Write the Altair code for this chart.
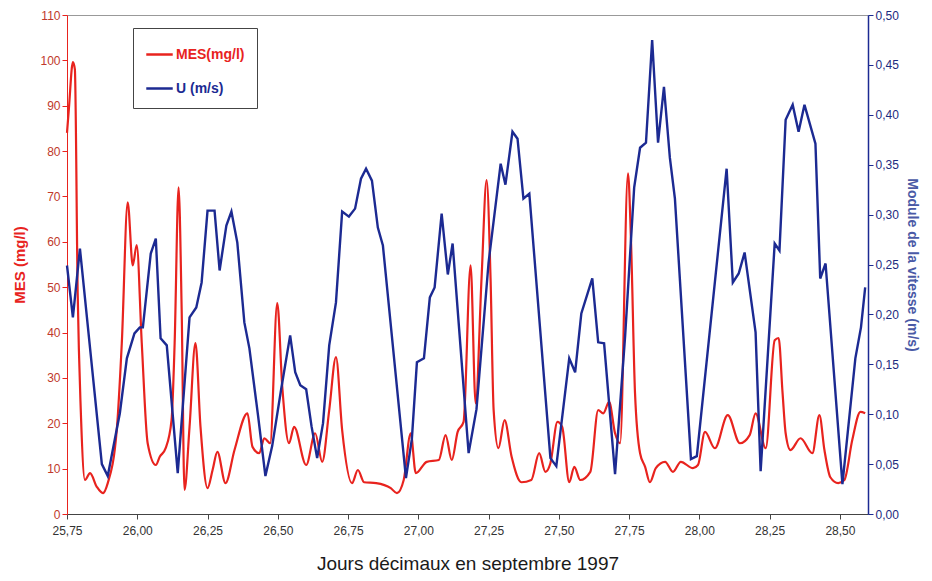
import altair as alt
import pandas as pd

RED = "#e8231e"
BLUE = "#1c2a92"
FONT = "Liberation Sans"

series = ["MES(mg/l)", "U (m/s)"]

mes_day = [25.75, 25.757, 25.771, 25.778, 25.788, 25.799, 25.814, 25.832, 25.856, 25.878,
           25.895, 25.927, 25.945, 25.966, 25.984, 25.998, 26.016, 26.037, 26.066, 26.080,
           26.101, 26.122, 26.133, 26.147, 26.158, 26.168, 26.186, 26.207, 26.225, 26.25,
           26.268, 26.285, 26.314, 26.346, 26.392, 26.41, 26.434, 26.452, 26.473, 26.498,
           26.516, 26.54, 26.558, 26.601, 26.633, 26.658, 26.683, 26.707, 26.729, 26.764,
           26.785, 26.807, 26.85, 26.902, 26.924, 26.948, 26.973, 26.991, 27.03, 27.073,
           27.097, 27.119, 27.14, 27.161, 27.186, 27.204, 27.225, 27.243, 27.257, 27.268,
           27.285, 27.307, 27.332, 27.367, 27.402, 27.43, 27.452, 27.47, 27.495, 27.512,
           27.537, 27.555, 27.576, 27.612, 27.64, 27.658, 27.679, 27.700, 27.718, 27.746,
           27.757, 27.771, 27.789, 27.807, 27.824, 27.845, 27.878, 27.906, 27.934, 27.977,
           27.995, 28.02, 28.055, 28.101, 28.144, 28.179, 28.2, 28.236, 28.268, 28.282,
           28.296, 28.307, 28.324, 28.36, 28.402, 28.427, 28.445, 28.466, 28.494, 28.516,
           28.544, 28.573, 28.59]
mes_val = [84, 89.6, 99.6, 98, 48.7, 22.9, 7.5, 9, 6, 4.6,
           6.8, 18.5, 37.7, 68.7, 54.8, 59.3, 37.7, 15.6, 10.8, 12.6,
           14.5, 20.7, 37.7, 72, 45, 5.3, 19.2, 37.7, 19.2, 5.7,
           9.7, 13.7, 6.8, 14.1, 22.2, 14.8, 13.4, 16.7, 15.6, 46.5,
           28, 15.6, 19.2, 10.8, 17.8, 11.5, 22.9, 34.6, 18.5, 6.8,
           9.7, 7, 6.8, 5.7, 4.6, 7.5, 17.8, 9, 11.5, 11.9,
           17.4, 11.9, 18.1, 20.3, 54.8, 24.4, 52, 73.6, 52, 22.9,
           14.5, 20.7, 12.6, 7, 7.5, 13.4, 9.3, 11.2, 20.3, 19.2,
           7, 10.4, 7.5, 9.3, 22.9, 22.2, 24.7, 17.8, 15.6, 75.1,
           59.7, 26.7, 13.4, 10.4, 7, 10.1, 11.5, 9.3, 11.5, 10.1,
           10.8, 18.1, 14.5, 21.8, 15.6, 17.4, 22.2, 14.5, 38.3, 38.8,
           26.7, 17.8, 14.1, 16.7, 13.4, 21.8, 14.1, 8.1, 6.8, 7.5,
           16.3, 22.5, 22.2]

u_day = [25.75, 25.771, 25.796, 25.874, 25.895, 25.938, 25.963, 25.99, 26.009, 26.02,
         26.048, 26.066, 26.083, 26.105, 26.144, 26.186, 26.21, 26.229, 26.25, 26.275,
         26.293, 26.317, 26.335, 26.356, 26.381, 26.399, 26.43, 26.456, 26.48, 26.512,
         26.544, 26.562, 26.58, 26.601, 26.62, 26.64, 26.661, 26.683, 26.707, 26.729,
         26.753, 26.775, 26.796, 26.814, 26.835, 26.856, 26.874, 26.956, 26.977, 26.995,
         27.02, 27.041, 27.058, 27.083, 27.105, 27.122, 27.179, 27.207, 27.25, 27.293,
         27.31, 27.335, 27.353, 27.374, 27.395, 27.47, 27.491, 27.537, 27.558, 27.58,
         27.619, 27.64, 27.661, 27.70, 27.736, 27.768, 27.789, 27.81, 27.832, 27.853,
         27.874, 27.895, 27.913, 27.97, 27.991, 28.097, 28.119, 28.14, 28.161, 28.20,
         28.218, 28.268, 28.285, 28.307, 28.332, 28.353, 28.374, 28.413, 28.43, 28.449,
         28.509, 28.555, 28.575, 28.59]
u_val = [0.249, 0.197, 0.266, 0.050, 0.038, 0.101, 0.156, 0.181, 0.187, 0.187,
         0.261, 0.276, 0.176, 0.169, 0.041, 0.197, 0.207, 0.232, 0.304, 0.304,
         0.244, 0.289, 0.303, 0.272, 0.192, 0.166, 0.098, 0.038, 0.068, 0.125,
         0.179, 0.142, 0.129, 0.125, 0.088, 0.056, 0.091, 0.169, 0.212, 0.303,
         0.298, 0.306, 0.336, 0.346, 0.334, 0.287, 0.269, 0.036, 0.075, 0.152,
         0.156, 0.217, 0.227, 0.301, 0.240, 0.271, 0.061, 0.105, 0.252, 0.351,
         0.330, 0.383, 0.376, 0.316, 0.321, 0.056, 0.048, 0.156, 0.142, 0.201,
         0.236, 0.172, 0.171, 0.040, 0.179, 0.327, 0.367, 0.372, 0.475, 0.372,
         0.428, 0.357, 0.316, 0.055, 0.058, 0.346, 0.232, 0.241, 0.262, 0.182,
         0.043, 0.271, 0.264, 0.395, 0.410, 0.383, 0.410, 0.371, 0.236, 0.251,
         0.030, 0.156, 0.187, 0.227]

x_ticks = [25.75, 26.00, 26.25, 26.50, 26.75, 27.00, 27.25, 27.50, 27.75, 28.00, 28.25, 28.50]
mes_ticks = [0, 10, 20, 30, 40, 50, 60, 70, 80, 90, 100, 110]
u_ticks = [0.00, 0.05, 0.10, 0.15, 0.20, 0.25, 0.30, 0.35, 0.40, 0.45, 0.50]

mes_df = pd.DataFrame({"jour": mes_day, "val": mes_val, "serie": series[0]})
u_df = pd.DataFrame({"jour": u_day, "val": u_val, "serie": series[1]})

comma2 = "replace(format(datum.value, '.2f'), '.', ',')"

x_enc = alt.X(
    "jour:Q",
    scale=alt.Scale(domain=[25.75, 28.60], nice=False, zero=False),
    axis=alt.Axis(
        values=x_ticks, labelExpr=comma2, title="Jours décimaux en septembre 1997",
        titleFontSize=19, titleFontWeight="normal", titleColor="#1a1a1a", titleFont=FONT,
        titlePadding=18, labelFontSize=12, labelColor="#333333", labelFont=FONT,
        domainColor="#444444", tickColor="#444444", tickSize=5, labelPadding=6,
        grid=False, labelFlush=False,
    ),
)

color_enc = alt.Color(
    "serie:N",
    scale=alt.Scale(domain=series, range=[RED, BLUE]),
    legend=alt.Legend(
        title=None, orient="none", legendX=66, legendY=13,
        symbolType="stroke", symbolStrokeWidth=2.5, symbolSize=700,
        labelFont=FONT, labelFontSize=14, labelFontWeight="bold",
        labelColor={"expr": "datum.label == 'U (m/s)' ? '#1c2a92' : '#e8231e'"},
        strokeColor="#444444", fillColor="white", padding=12, rowPadding=12,
        labelOffset=2,
    ),
)

red = alt.Chart(mes_df).mark_line(interpolate="monotone", strokeWidth=2.2).encode(
    x=x_enc,
    y=alt.Y(
        "val:Q",
        scale=alt.Scale(domain=[0, 110], nice=False),
        axis=alt.Axis(
            values=mes_ticks, format="d", title="MES (mg/l)", orient="left",
            titleColor=RED, titleFontSize=15, titleFontWeight="bold", titleFont=FONT,
            titlePadding=12, labelColor="#c0392b", labelFontSize=12, labelFont=FONT,
            domainColor=RED, tickColor=RED, tickSize=5, grid=False,
        ),
    ),
    color=color_enc,
)

blue = alt.Chart(u_df).mark_line(strokeWidth=2.4).encode(
    x=x_enc,
    y=alt.Y(
        "val:Q",
        scale=alt.Scale(domain=[0, 0.5], nice=False),
        axis=alt.Axis(
            values=u_ticks, labelExpr=comma2, title="Module de la vitesse (m/s)", orient="right",
            titleColor="#4a5aa6", titleFontSize=14, titleFontWeight="bold", titleFont=FONT,
            titlePadding=6, labelColor="#1c2a80", labelFontSize=12, labelFont=FONT,
            domainColor=BLUE, domainWidth=1.5, tickColor=BLUE, tickSize=5, grid=False,
        ),
    ),
    color=color_enc,
)

chart = (
    alt.layer(red, blue)
    .resolve_scale(y="independent")
    .properties(
        width=801, height=499,
        autosize=alt.AutoSizeParams(type="none"),
        padding={"left": 59, "top": 7, "right": 56, "bottom": 58},
        background="white",
    )
    .configure_view(stroke="#999999", strokeWidth=1)
)

chart.save("out.html", embed_options={"renderer": "svg", "actions": False})
